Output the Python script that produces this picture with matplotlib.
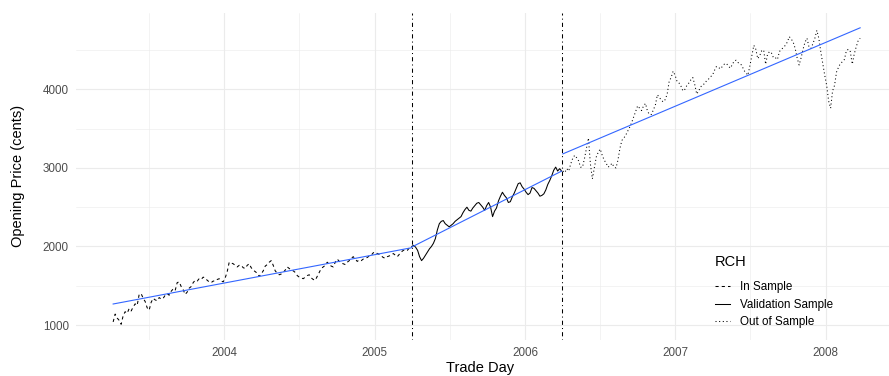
import numpy as np
import pandas as pd
import matplotlib
matplotlib.use("Agg")
import matplotlib.pyplot as plt
import matplotlib.dates as mdates
from matplotlib.lines import Line2D

plt.rcParams['font.family'] = ['Liberation Sans', 'DejaVu Sans']

# Sample windows (trade days)
in_start, in_end = "2003-04-07", "2005-03-31"
val_start, val_end = "2005-04-01", "2006-03-31"
out_start, out_end = "2006-04-03", "2008-03-25"
split_dates = ["2005-04-01", "2006-04-01"]

# Opening prices (cents)
in_sample = [
    1040, 1140, 1090, 1060, 1010, 1120, 1170, 1150, 1210, 1180,
    1230, 1270, 1250, 1390, 1400, 1340, 1300, 1220, 1190, 1290,
    1340, 1320, 1310, 1350, 1330, 1340, 1380, 1400, 1380, 1430,
    1460, 1440, 1540, 1550, 1490, 1450, 1390, 1420, 1470, 1490,
    1540, 1570, 1560, 1590, 1580, 1610, 1600, 1570, 1550, 1540,
    1560, 1560, 1580, 1590, 1560, 1550, 1600, 1680, 1800, 1790,
    1780, 1760, 1740, 1760, 1760, 1730, 1720, 1760, 1780, 1730,
    1700, 1680, 1660, 1620, 1650, 1690, 1750, 1770, 1800, 1820,
    1760, 1690, 1660, 1640, 1650, 1670, 1700, 1740, 1720, 1700,
    1690, 1670, 1630, 1610, 1600, 1590, 1610, 1630, 1640, 1600,
    1580, 1570, 1620, 1670, 1720, 1740, 1760, 1800, 1770, 1750,
    1740, 1800, 1840, 1810, 1790, 1780, 1770, 1800, 1820, 1850,
    1870, 1840, 1810, 1830, 1820, 1840, 1850, 1860, 1880, 1890,
    1920, 1930, 1910, 1900, 1880, 1860, 1850, 1870, 1880, 1890,
    1910, 1890, 1870, 1900, 1930, 1950, 1960, 1950, 1980, 2000,
]
validation = [
    2000, 2015, 1990, 1950, 1870, 1820, 1850, 1890, 1930, 1970,
    2000, 2040, 2100, 2210, 2290, 2320, 2330, 2290, 2270, 2250,
    2270, 2290, 2320, 2340, 2360, 2380, 2430, 2470, 2500, 2460,
    2450, 2490, 2520, 2550, 2560, 2530, 2500, 2460, 2520, 2560,
    2500, 2380, 2450, 2490, 2580, 2640, 2690, 2650, 2620, 2560,
    2570, 2630, 2680, 2740, 2800, 2810, 2760, 2730, 2690, 2660,
    2680, 2750, 2740, 2710, 2680, 2640, 2650, 2670, 2720, 2790,
    2840, 2900, 2970, 3010, 2960, 2990, 2960,
]
out_sample = [
    2960, 2940, 2990, 2960, 3050, 3120, 3160, 3130, 3090, 3010,
    3010, 3120, 3250, 3380, 3050, 2860, 3000, 3140, 3200, 3240,
    3160, 3100, 3060, 3010, 3030, 3060, 3010, 3000, 3100, 3250,
    3350, 3380, 3420, 3470, 3520, 3580, 3650, 3720, 3790, 3760,
    3730, 3790, 3820, 3720, 3680, 3680, 3740, 3800, 3930, 3900,
    3860, 3840, 3870, 3940, 4100, 4150, 4230, 4180, 4100, 4080,
    4040, 3980, 4000, 4050, 4080, 4120, 4150, 4060, 3940, 3980,
    4030, 4060, 4070, 4110, 4130, 4160, 4180, 4240, 4290, 4280,
    4260, 4290, 4320, 4330, 4300, 4270, 4310, 4360, 4370, 4340,
    4330, 4300, 4240, 4210, 4180, 4300, 4430, 4560, 4510, 4390,
    4430, 4490, 4500, 4320, 4450, 4480, 4460, 4400, 4400, 4380,
    4480, 4510, 4530, 4560, 4600, 4670, 4640, 4600, 4520, 4400,
    4310, 4400, 4510, 4600, 4650, 4540, 4520, 4580, 4650, 4750,
    4650, 4480, 4330, 4180, 4050, 3850, 3760, 3980, 4050, 4220,
    4280, 4330, 4350, 4380, 4490, 4510, 4480, 4320, 4450, 4540,
    4620, 4650,
]

series = [
    ("In Sample", in_start, in_end, in_sample, (0, (3, 3))),
    ("Validation Sample", val_start, val_end, validation, "solid"),
    ("Out of Sample", out_start, out_end, out_sample, (0, (1, 2.5))),
]


def trade_days(start, end, n):
    a = mdates.date2num(pd.Timestamp(start))
    b = mdates.date2num(pd.Timestamp(end))
    return np.linspace(a, b, n)


W, H = 889, 376
fig = plt.figure(figsize=(W / 100, H / 100), dpi=100)
ax = fig.add_axes([75.8 / W, 36 / H, (897.5 - 75.8) / W, (340 - 12.7) / H])

handles = []
all_x = []
for name, s, e, vals, ls in series:
    x = trade_days(s, e, len(vals))
    y = np.asarray(vals, dtype=float)
    all_x.append(x)
    ax.plot(x, y, color="black", lw=0.75, linestyle=ls, zorder=3)
    # linear trend fitted to each sample window
    coef = np.polyfit(x - x[0], y, 1)
    xf = np.array([x[0], x[-1]])
    ax.plot(xf, np.polyval(coef, xf - x[0]), color="#3366FF", lw=0.8, zorder=4)
    handles.append(Line2D([], [], color="black", lw=0.75, linestyle=ls))

for d in split_dates:
    ax.axvline(mdates.date2num(pd.Timestamp(d)), color="black", lw=0.75,
               linestyle=(0, (1, 3, 4, 3)), zorder=5)

xs = np.concatenate(all_x)
span = xs.max() - xs.min()
ax.set_xlim(xs.min() - 0.05 * span, xs.max() + 0.05 * span)
ax.set_ylim(810, 4975)

ax.xaxis.set_major_locator(mdates.YearLocator())
ax.xaxis.set_major_formatter(mdates.DateFormatter("%Y"))
ax.xaxis.set_minor_locator(mdates.MonthLocator(bymonth=7, bymonthday=2))
ax.set_yticks([1000, 2000, 3000, 4000])
ax.set_yticks([1500, 2500, 3500, 4500], minor=True)

ax.grid(which="major", color="#EBEBEB", lw=0.8)
ax.grid(which="minor", color="#EBEBEB", lw=0.4)
ax.set_axisbelow(True)
for sp in ax.spines.values():
    sp.set_visible(False)
ax.tick_params(which="both", length=0, labelsize=8.4, labelcolor="#4D4D4D")
ax.tick_params(axis="y", pad=5)
ax.tick_params(axis="x", pad=5)

fig.text(480 / W, 1 - 368 / H, "Trade Day", ha="center", va="center", fontsize=10.5)
fig.text(18 / W, 1 - 176 / H, "Opening Price (cents)", ha="center", va="center",
         rotation=90, fontsize=10.5)

leg = ax.legend(handles, [s[0] for s in series], title="RCH", loc="upper left",
                bbox_to_anchor=(715 / W, 1 - 255 / H), bbox_transform=fig.transFigure,
                frameon=False, fontsize=8.4, title_fontsize=10.5, handlelength=1.3,
                handletextpad=0.85, labelspacing=0.5, borderpad=0, borderaxespad=0,
                alignment="left")
leg._legend_box.sep = 8.5

fig.savefig("out.png", dpi=100)
